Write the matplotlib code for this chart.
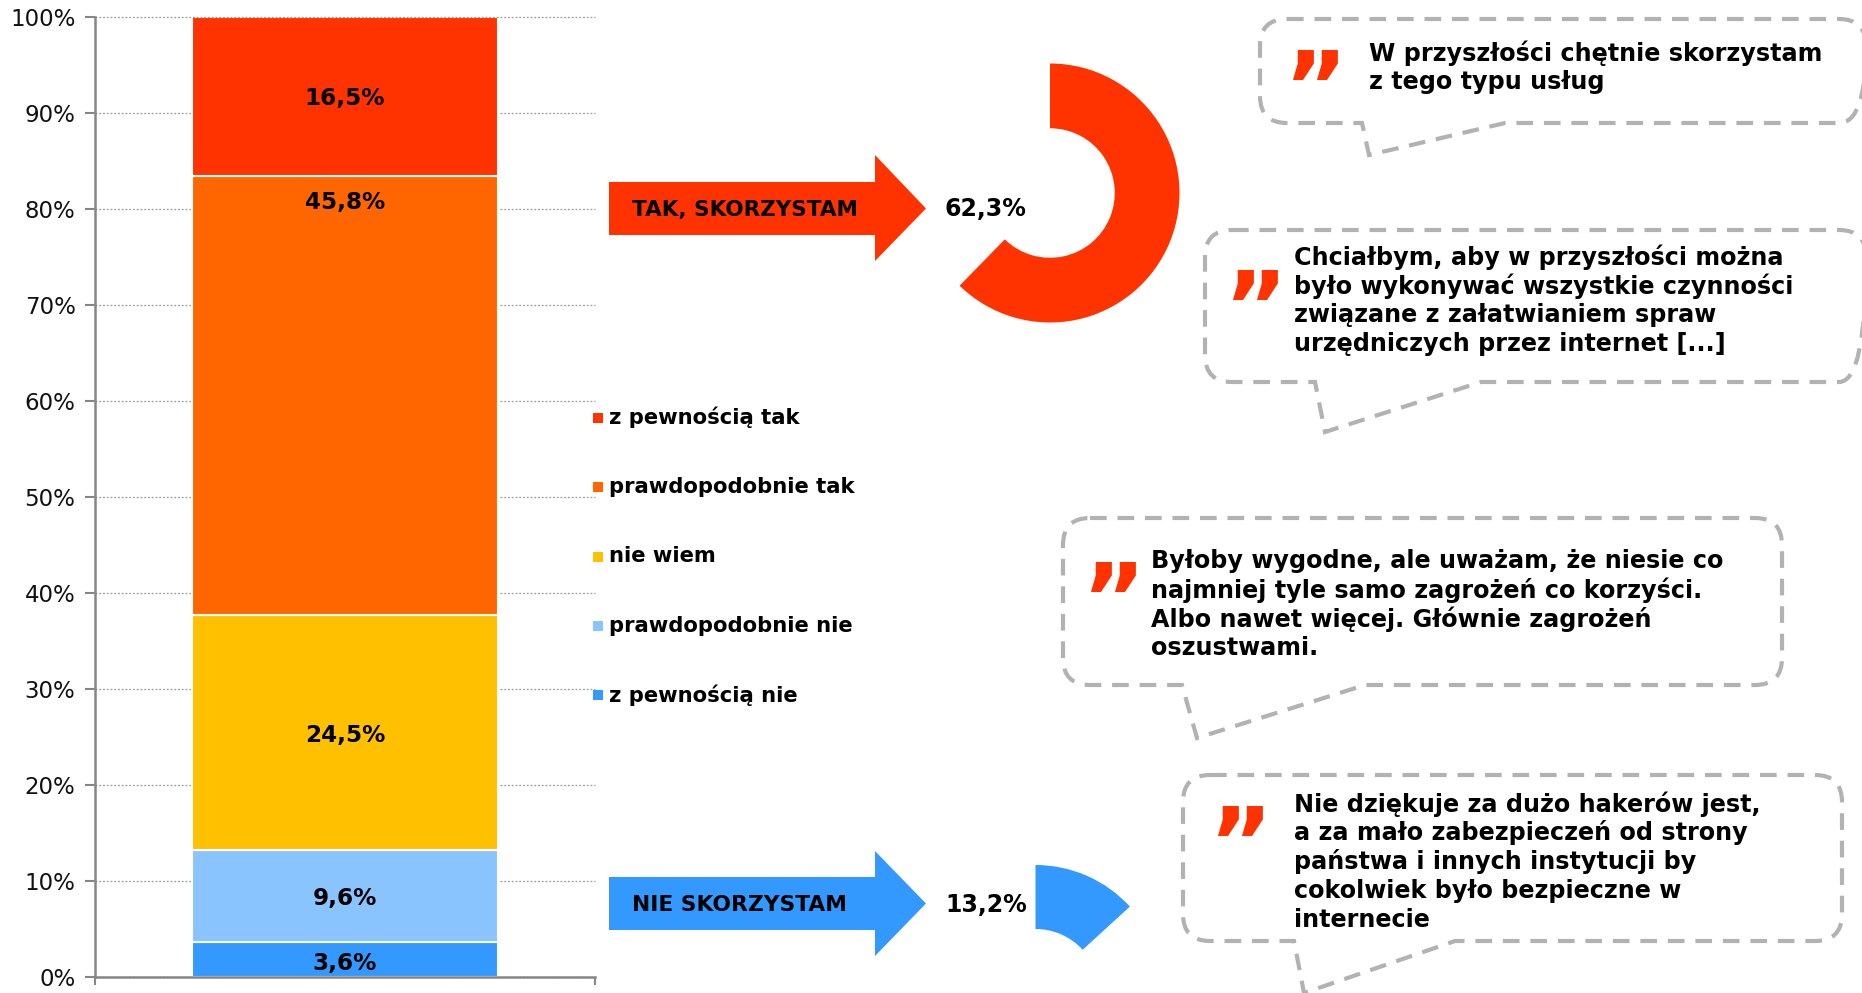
import matplotlib
matplotlib.use('Agg')
import matplotlib.pyplot as plt
from matplotlib.path import Path
from matplotlib.patches import PathPatch, Polygon, Rectangle

plt.rcParams['font.family'] = ['DejaVu Sans']

W, H = 1862, 993

# stacked column, bottom to top
answers = ['z pewnością nie', 'prawdopodobnie nie', 'nie wiem', 'prawdopodobnie tak', 'z pewnością tak']
shares = [3.6, 9.6, 24.5, 45.8, 16.5]
share_labels = ['3,6%', '9,6%', '24,5%', '45,8%', '16,5%']
label_y = [1.45, 8.2, 25.15, 80.7, 91.6]
colors = ['#3399FF', '#8AC4FF', '#FFC000', '#FF6600', '#FF3300']
y_ticks = [0, 10, 20, 30, 40, 50, 60, 70, 80, 90, 100]

yes_share = 62.3
no_share = 13.2
yes_label = '62,3%'
no_label = '13,2%'

quotes = [
    ['W przyszłości chętnie skorzystam', 'z tego typu usług'],
    ['Chciałbym, aby w przyszłości można', 'było wykonywać wszystkie czynności',
     'związane z załatwianiem spraw', 'urzędniczych przez internet [...]'],
    ['Byłoby wygodne, ale uważam, że niesie co', 'najmniej tyle samo zagrożeń co korzyści.',
     'Albo nawet więcej. Głównie zagrożeń', 'oszustwami.'],
    ['Nie dziękuje za dużo hakerów jest,', 'a za mało zabezpieczeń od strony',
     'państwa i innych instytucji by', 'cokolwiek było bezpieczne w', 'internecie'],
]


def box(x0, y0, x1, y1):
    # pixel box, y measured from the top of the picture
    return [x0 / W, 1 - y1 / H, (x1 - x0) / W, (y1 - y0) / H]


fig = plt.figure(figsize=(W / 100, H / 100), dpi=100, facecolor='white')

ax = fig.add_axes(box(95, 17.5, 595, 977))
bottom = 0
for value, color in zip(shares, colors):
    ax.bar(0.5, value, 0.612, bottom=bottom, color=color, edgecolor='white', linewidth=1.5, zorder=3)
    bottom += value
for lab, yy in zip(share_labels, label_y):
    ax.text(0.5, yy, lab, ha='center', va='center', fontsize=16.7, fontweight='bold', color='black', zorder=4)
ax.set_xlim(0, 1)
ax.set_ylim(0, 100)
ax.set_yticks(y_ticks)
ax.set_yticklabels([f'{t}%' for t in y_ticks], fontsize=16.5, color='#111111')
ax.set_xticks([0, 1])
ax.set_xticklabels([])
ax.tick_params(axis='y', length=7, width=1.5, color='#868686', pad=7)
ax.tick_params(axis='x', length=6, width=1.5, color='#868686')
ax.grid(axis='y', color='#9A9A9A', linestyle=(0, (1.5, 1.5)), linewidth=0.9, zorder=1, clip_on=False)
ax.set_axisbelow(True)
for side in ['top', 'right']:
    ax.spines[side].set_visible(False)
for side in ['left', 'bottom']:
    ax.spines[side].set_color('#868686')
    ax.spines[side].set_linewidth(1.8)
    ax.spines[side].set_zorder(5)

# overlay in picture pixels for arrows, bubbles and legend
ov = fig.add_axes([0, 0, 1, 1], facecolor='none')
ov.set_xlim(0, W)
ov.set_ylim(H, 0)
ov.axis('off')


def arrow(x0, x1, xh, y0, y1, hy0, hy1, color):
    mid = (y0 + y1) / 2
    pts = [(x0, y0), (xh, y0), (xh, hy0), (x1, mid), (xh, hy1), (xh, y1), (x0, y1)]
    ov.add_patch(Polygon(pts, closed=True, facecolor=color, edgecolor='none'))


arrow(609, 926, 875, 182, 235, 155, 261, '#FF3300')
arrow(609, 926, 875, 877, 930, 851, 956, '#3399FF')
ov.text(632, 210, 'TAK, SKORZYSTAM', fontsize=15.5, fontweight='bold', va='center', color='black')
ov.text(632, 905, 'NIE SKORZYSTAM', fontsize=15.7, fontweight='bold', va='center', color='black')
ov.text(945, 209, yes_label, fontsize=17, fontweight='bold', va='center', color='black')
ov.text(945, 905, no_label, fontsize=17, fontweight='bold', va='center', color='black')

# legend
for name, color, yy in zip(answers, colors, [695, 625.5, 556.5, 487, 417.5]):
    ov.add_patch(Rectangle((593, yy - 5), 10, 10, facecolor=color, edgecolor='none'))
    ov.text(609, yy, name, fontsize=15.2, fontweight='bold', va='center', color='black')


def bubble(x0, y0, x1, y1, tail, r=27):
    t0, tip, t1 = tail
    verts = [(x0 + r, y0), (x1 - r, y0), (x1, y0), (x1, y0 + r), (x1, y1 - r), (x1, y1), (x1 - r, y1),
             (t1, y1), tip, (t0, y1), (x0 + r, y1), (x0, y1), (x0, y1 - r), (x0, y0 + r), (x0, y0),
             (x0 + r, y0)]
    codes = [Path.MOVETO, Path.LINETO, Path.CURVE3, Path.CURVE3, Path.LINETO, Path.CURVE3, Path.CURVE3,
             Path.LINETO, Path.LINETO, Path.LINETO, Path.LINETO, Path.CURVE3, Path.CURVE3, Path.LINETO,
             Path.CURVE3, Path.CURVE3]
    ov.add_patch(PathPatch(Path(verts, codes), facecolor='none', edgecolor='#B2B2B2', linewidth=3,
                           linestyle=(0, (4, 2.6))))


bubble(1260, 19, 1866, 123, (1362, (1369, 155), 1505))
bubble(1205, 230, 1866, 382, (1315, (1325, 432), 1481))
bubble(1063, 518, 1782, 685, (1182, (1197, 738), 1365))
bubble(1183, 775, 1842, 941, (1294, (1304, 993), 1455))

# quote marks and quote text
quote_pos = [(1369, 53.4), (1294.5, 257), (1151, 561), (1294.5, 804)]
mark_pos = [(1315, 93), (1255, 313), (1113, 606), (1240, 849)]
for lines, (tx, ty), (mx, my) in zip(quotes, quote_pos, mark_pos):
    for i, line in enumerate(lines):
        ov.text(tx, ty + i * 28.9, line, fontsize=17.2, fontweight='bold', va='center', color='black')
    ov.text(mx, my, '\u201d', fontsize=70, fontweight='bold', color='#FF3300', ha='center', va='center')

# share rings
for share, (cx, cy, rad), color in zip([yes_share, no_share], [(1050, 193, 129.5), (1035.5, 993, 128)],
                                       ['#FF3300', '#3399FF']):
    pie_ax = fig.add_axes(box(cx - rad, cy - rad, cx + rad, cy + rad), facecolor='none')
    pie_ax.pie([share, 100 - share], colors=[color, 'none'], startangle=90, counterclock=False,
               radius=1, wedgeprops={'width': 0.5, 'linewidth': 0})
    pie_ax.set_xlim(-1, 1)
    pie_ax.set_ylim(-1, 1)

fig.savefig('out.png', dpi=100)
